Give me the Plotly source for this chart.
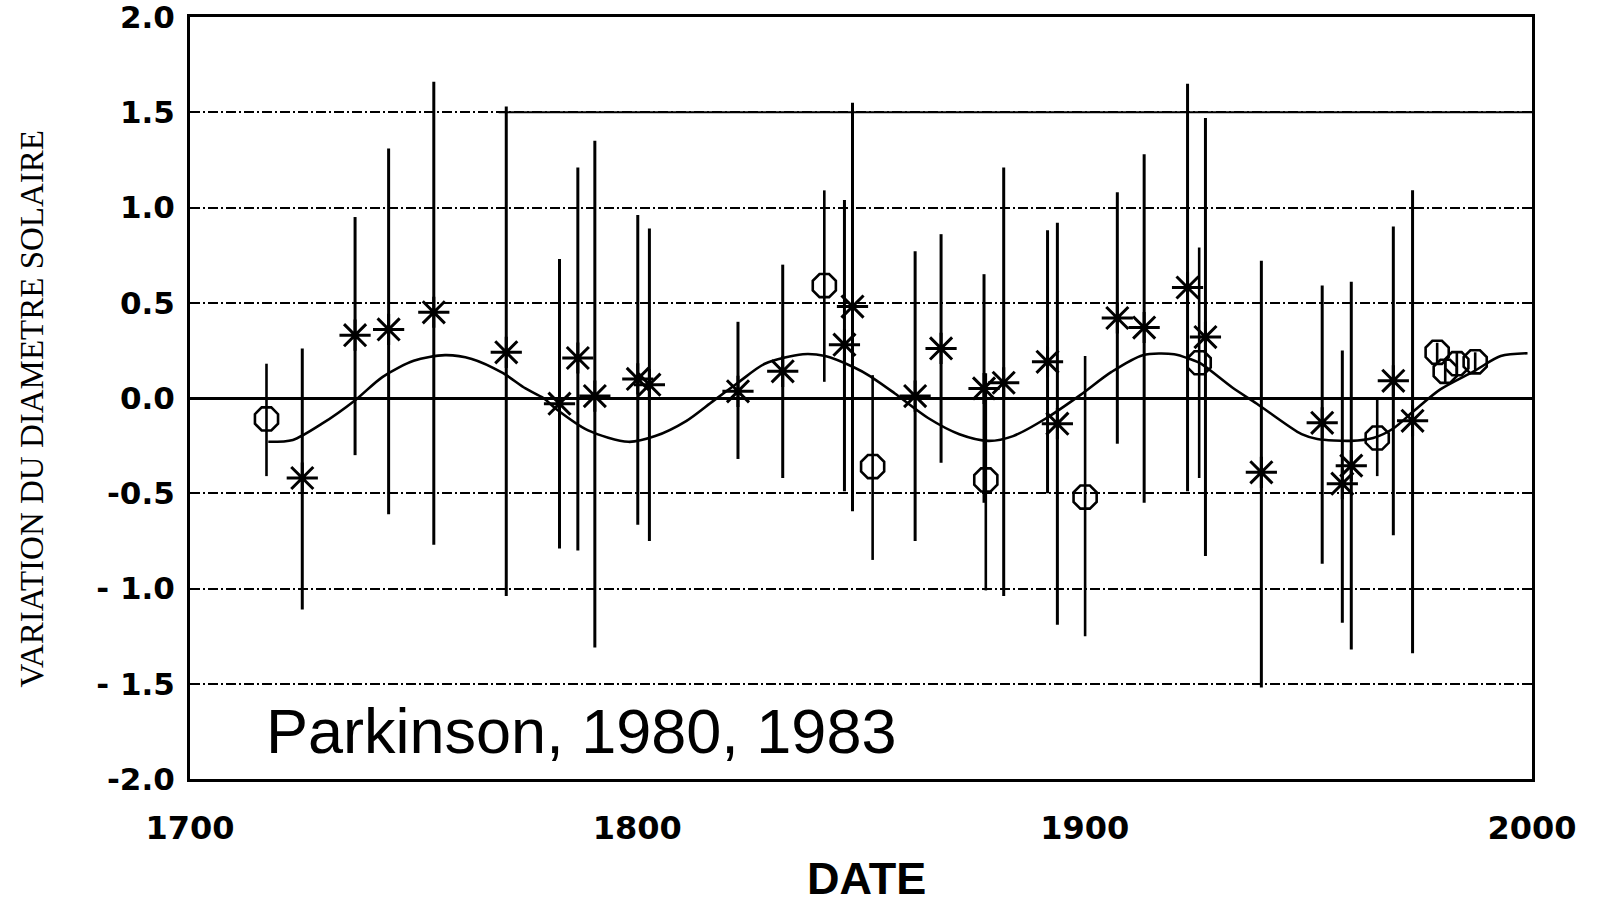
import plotly.graph_objects as go

# ---- data ----
# open octagons (circles)
circle_year = [1717.1, 1841.8, 1852.6, 1877.9, 1900.1, 1925.6, 1965.4, 1978.8, 1980.6, 1983.2, 1987.3]
circle_val  = [-0.11, 0.59, -0.36, -0.43, -0.52, 0.185, -0.21, 0.24, 0.14, 0.18, 0.19]
circle_hi   = [0.18, 1.09, 0.12, 0.13, 0.22, 0.79, -0.01, 0.29, 0.20, 0.24, 0.24]
circle_lo   = [-0.41, 0.085, -0.85, -1.01, -1.25, -0.42, -0.41, 0.18, 0.08, 0.12, 0.14]

# asterisks
star_year = [1725.1, 1736.9, 1744.4, 1754.5, 1770.7, 1782.6, 1786.7, 1790.5, 1800.1, 1802.7,
             1822.5, 1832.5, 1846.3, 1848.1, 1862.1, 1867.9, 1877.5, 1881.9, 1891.7, 1893.9,
             1907.3, 1913.3, 1923.0, 1927.0, 1939.5, 1953.1, 1957.6, 1959.6, 1969.0, 1973.3]
star_val  = [-0.42, 0.33, 0.36, 0.45, 0.24, -0.03, 0.21, 0.01, 0.10, 0.07,
             0.035, 0.14, 0.28, 0.48, 0.01, 0.26, 0.05, 0.08, 0.19, -0.135,
             0.42, 0.37, 0.58, 0.32, -0.39, -0.13, -0.45, -0.355, 0.09, -0.12]
star_hi   = [0.26, 0.95, 1.31, 1.66, 1.53, 0.73, 1.21, 1.35, 0.96, 0.89,
             0.40, 0.70, 1.04, 1.55, 0.77, 0.86, 0.65, 1.21, 0.88, 0.92,
             1.08, 1.28, 1.65, 1.47, 0.72, 0.59, 0.25, 0.61, 0.90, 1.09]
star_lo   = [-1.11, -0.30, -0.61, -0.77, -1.04, -0.79, -0.80, -1.31, -0.665, -0.75,
             -0.32, -0.42, -0.49, -0.595, -0.75, -0.34, -0.55, -1.04, -0.50, -1.19,
             -0.24, -0.55, -0.49, -0.83, -1.52, -0.87, -1.18, -1.32, -0.72, -1.34]

# fitted curve
fit_year = [1717.5, 1723, 1729.5, 1737, 1743, 1750, 1757, 1763, 1770, 1775, 1779, 1782,
            1789, 1798, 1804, 1811, 1817, 1822.5, 1828.5, 1837, 1842, 1848.5, 1852, 1857.5,
            1865, 1872, 1878.5, 1884, 1891.5, 1899, 1906, 1913, 1920, 1923.5, 1926, 1933,
            1938.5, 1948.5, 1952, 1959.5, 1964.5, 1969, 1973.5, 1979.5, 1987, 1993, 1999]
fit_val  = [-0.23, -0.22, -0.135, -0.01, 0.11, 0.195, 0.225, 0.205, 0.13, 0.05, 0.0, -0.06,
            -0.17, -0.23, -0.20, -0.12, -0.015, 0.08, 0.18, 0.23, 0.22, 0.16, 0.115, 0.025,
            -0.105, -0.19, -0.225, -0.20, -0.105, 0.015, 0.137, 0.225, 0.23, 0.205, 0.18, 0.055,
            -0.03, -0.19, -0.215, -0.225, -0.21, -0.16, -0.07, 0.045, 0.14, 0.22, 0.235]

y_ticks = [2.0, 1.5, 1.0, 0.5, 0.0, -0.5, -1.0, -1.5, -2.0]
y_ticktext = ["2.0", "1.5", "1.0", "0.5", "0.0", "-0.5", "- 1.0", "- 1.5", "-2.0"]
x_ticks = [1700, 1800, 1900, 2000]
x_ticktext = ["1700", "1800", "1900", "2000"]

fig = go.Figure()

fig.add_trace(go.Scatter(
    x=fit_year, y=fit_val, mode="lines",
    line=dict(color="black", width=2.6, shape="spline", smoothing=0.8),
    hoverinfo="skip"))

fig.add_trace(go.Scatter(
    x=star_year, y=star_val, mode="markers",
    marker=dict(symbol="asterisk-open", size=26, color="black",
                line=dict(width=3, color="black")),
    error_y=dict(type="data", symmetric=False,
                 array=[h - v for h, v in zip(star_hi, star_val)],
                 arrayminus=[v - l for v, l in zip(star_val, star_lo)],
                 width=0, thickness=3, color="black")))

fig.add_trace(go.Scatter(
    x=circle_year, y=circle_val, mode="markers",
    marker=dict(symbol="octagon-open", size=25, color="black",
                line=dict(width=2.6, color="black")),
    error_y=dict(type="data", symmetric=False,
                 array=[h - v for h, v in zip(circle_hi, circle_val)],
                 arrayminus=[v - l for v, l in zip(circle_val, circle_lo)],
                 width=0, thickness=2.6, color="black")))

# solid right part of the 1.5 grid line (as in the scan)
fig.add_shape(type="line", xref="x", yref="y", x0=1769, x1=2000, y0=1.5, y1=1.5,
              line=dict(color="black", width=2), layer="below")

fig.update_layout(
    width=1597, height=904,
    margin=dict(l=190, r=65, t=17, b=125, autoexpand=False),
    paper_bgcolor="white", plot_bgcolor="white",
    showlegend=False,
    xaxis=dict(range=[1700, 2000], showline=True, linewidth=3, linecolor="black", mirror=True,
               showgrid=False, zeroline=False, tickvals=x_ticks, ticktext=x_ticktext, ticks="",
               ticklabelstandoff=19, ticklabeloverflow="allow", automargin=False,
               tickfont=dict(family="DejaVu Sans", size=32, color="black", weight="bold")),
    yaxis=dict(range=[-2, 2], showline=True, linewidth=3, linecolor="black", mirror=True,
               showgrid=True, gridcolor="black", gridwidth=1.6, griddash="10px,3px,2px,3px",
               zeroline=True, zerolinecolor="black", zerolinewidth=2.6,
               tickvals=y_ticks, ticktext=y_ticktext, ticks="", ticklabelstandoff=6,
               ticklabeloverflow="allow", automargin=False,
               tickfont=dict(family="DejaVu Sans", size=31, color="black", weight="bold")),
    annotations=[
        dict(text="VARIATION DU DIAMETRE SOLAIRE", xref="paper", yref="paper",
             x=-0.118, y=0.4856, xanchor="center", yanchor="middle", textangle=-90,
             showarrow=False, font=dict(family="Liberation Serif", size=33, color="black")),
        dict(text="DATE", xref="paper", yref="paper", x=0.504, y=-0.131,
             xanchor="center", yanchor="middle", showarrow=False,
             font=dict(family="Liberation Sans", size=45, color="black", weight="bold")),
        dict(text="Parkinson, 1980, 1983", xref="x", yref="y", x=1716.5, y=-1.747,
             xanchor="left", yanchor="middle", showarrow=False,
             font=dict(family="Liberation Sans", size=63, color="black")),
    ],
)

fig.write_html("out.html")
